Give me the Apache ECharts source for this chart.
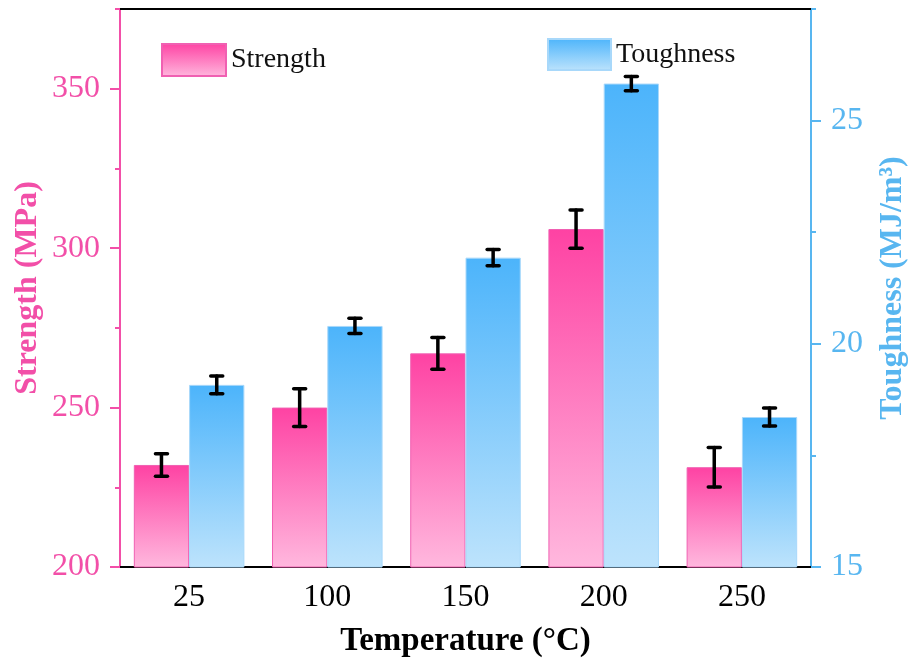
<!DOCTYPE html>
<html>
<head>
<meta charset="utf-8">
<script src="https://cdn.jsdelivr.net/npm/echarts@6/dist/echarts.min.js"></script>
<style>
html,body{margin:0;padding:0;background:#fff;}
#chart{width:913px;height:666px;}
</style>
</head>
<body>
<div id="chart"></div>
<script>
// ---- data ----
var categories = ['25', '100', '150', '200', '250'];
var strength = [232, 250, 267, 306, 231.3];
var strengthErr = [3.5, 5.9, 5, 6, 6.2];
var toughness = [19.08, 20.4, 21.93, 25.83, 18.36];
var toughnessErr = [0.2, 0.17, 0.18, 0.16, 0.2];
var strengthTicks = [200, 250, 300, 350];
var toughnessTicks = [15, 20, 25];

var PINK = '#f24fa8';
var BLUE = '#58b6f0';
var FONT = '"Liberation Serif", "Times New Roman", serif';

function errData(vals, errs) {
  return vals.map(function (v, i) { return [i, v - errs[i], v + errs[i]]; });
}
function errRender(side) {
  return function (params, api) {
    var band = api.size([1, 0])[0];
    var off = side * band * 0.2;
    var lo = api.coord([api.value(0), api.value(1)]);
    var hi = api.coord([api.value(0), api.value(2)]);
    var x = lo[0] + off;
    var cw = 6;
    var st = { stroke: '#000', lineWidth: 3.5, lineCap: 'round' };
    return {
      type: 'group',
      children: [
        { type: 'line', shape: { x1: x, y1: lo[1], x2: x, y2: hi[1] }, style: st },
        { type: 'line', shape: { x1: x - cw, y1: lo[1], x2: x + cw, y2: lo[1] }, style: st },
        { type: 'line', shape: { x1: x - cw, y1: hi[1], x2: x + cw, y2: hi[1] }, style: st }
      ]
    };
  };
}

var chart = echarts.init(document.getElementById('chart'));
var option = {
  backgroundColor: '#fff',
  animation: false,
  textStyle: { fontFamily: FONT },
  grid: { left: 120, right: 102, top: 9, bottom: 99, containLabel: false, outerBoundsMode: 'none' },
  legend: [
    {
      data: [{ name: 'Strength', icon: 'rect' }], left: 156, top: 38, itemWidth: 64, itemHeight: 32,
      textStyle: { fontFamily: FONT, fontSize: 28, color: '#111' },
      selectedMode: false
    },
    {
      data: [{ name: 'Toughness', icon: 'rect' }], left: 542, top: 33, itemWidth: 63, itemHeight: 31,
      textStyle: { fontFamily: FONT, fontSize: 28, color: '#111' },
      selectedMode: false
    }
  ],
  xAxis: [
    {
      type: 'category', data: categories, position: 'bottom',
      axisLine: { lineStyle: { color: '#000', width: 2 } },
      axisTick: { alignWithLabel: true, length: 10, lineStyle: { color: '#000', width: 2 } },
      axisLabel: { fontFamily: FONT, fontSize: 32, color: '#000', margin: 15 },
      name: 'Temperature (°C)', nameLocation: 'middle', nameGap: 58, nameMoveOverlap: false,
      nameTextStyle: { fontFamily: FONT, fontSize: 33, fontWeight: 'bold', color: '#000' }
    },
    {
      type: 'category', data: categories, position: 'top',
      axisLine: { lineStyle: { color: '#000', width: 2 } },
      axisTick: { show: false }, axisLabel: { show: false }
    }
  ],
  yAxis: [
    {
      type: 'value', min: 200, max: 375, interval: 50, position: 'left',
      axisLine: { show: true, lineStyle: { color: PINK, width: 2 } },
      axisTick: { show: true, length: 10, lineStyle: { color: PINK, width: 2 }, customValues: strengthTicks },
      axisLabel: { fontFamily: FONT, fontSize: 32, color: PINK, margin: 20, customValues: strengthTicks },
      splitLine: { show: false },
      name: 'Strength (MPa)', nameLocation: 'middle', nameGap: 76, nameRotate: 90, nameMoveOverlap: false,
      nameTextStyle: { fontFamily: FONT, fontSize: 32, fontWeight: 'bold', color: PINK }
    },
    {
      type: 'value', min: 200, max: 375, interval: 25, position: 'left',
      axisLine: { show: false },
      axisTick: { show: true, length: 5, lineStyle: { color: PINK, width: 2 } },
      axisLabel: { show: false }, splitLine: { show: false }
    },
    {
      type: 'value', min: 15, max: 27.5, interval: 5, position: 'right',
      axisLine: { show: true, lineStyle: { color: BLUE, width: 2 } },
      axisTick: { show: true, length: 10, lineStyle: { color: BLUE, width: 2 }, customValues: toughnessTicks },
      axisLabel: { fontFamily: FONT, fontSize: 32, color: BLUE, margin: 20, customValues: toughnessTicks },
      splitLine: { show: false },
      name: 'Toughness (MJ/m³)', nameLocation: 'middle', nameGap: 66, nameRotate: 90, nameMoveOverlap: false,
      nameTextStyle: { fontFamily: FONT, fontSize: 32, fontWeight: 'bold', color: BLUE }
    },
    {
      type: 'value', min: 15, max: 27.5, interval: 2.5, position: 'right',
      axisLine: { show: false },
      axisTick: { show: true, length: 5, lineStyle: { color: BLUE, width: 2 } },
      axisLabel: { show: false }, splitLine: { show: false }
    }
  ],
  series: [
    {
      name: 'Strength', type: 'bar', yAxisIndex: 0, data: strength,
      barWidth: '40%', barGap: '0%',
      itemStyle: {
        color: new echarts.graphic.LinearGradient(0, 0, 0, 1, [
          { offset: 0, color: '#fe42a3' }, { offset: 1, color: '#ffb8de' }
        ]),
        borderColor: '#f060b2', borderWidth: 1
      }
    },
    {
      name: 'Toughness', type: 'bar', yAxisIndex: 2, data: toughness,
      barWidth: '40%', barGap: '0%',
      itemStyle: {
        color: new echarts.graphic.LinearGradient(0, 0, 0, 1, [
          { offset: 0, color: '#4cb4fb' }, { offset: 1, color: '#bde3fc' }
        ]),
        borderColor: '#a8d8fa', borderWidth: 1
      }
    },
    {
      type: 'custom', yAxisIndex: 0, data: errData(strength, strengthErr),
      renderItem: errRender(-1), encode: { x: 0, y: [1, 2] }, z: 5
    },
    {
      type: 'custom', yAxisIndex: 2, data: errData(toughness, toughnessErr),
      renderItem: errRender(1), encode: { x: 0, y: [1, 2] }, z: 5
    }
  ]
};
chart.setOption(option);
</script>
</body>
</html>
